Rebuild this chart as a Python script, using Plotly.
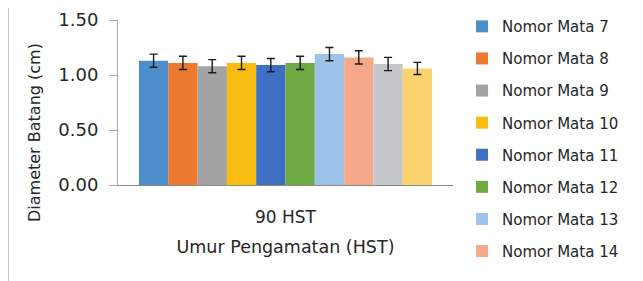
import plotly.graph_objects as go

categories = ["90 HST"]
series_names = ["Nomor Mata 7", "Nomor Mata 8", "Nomor Mata 9", "Nomor Mata 10",
                "Nomor Mata 11", "Nomor Mata 12", "Nomor Mata 13", "Nomor Mata 14",
                "Nomor Mata 15", "Nomor Mata 16"]
values = [1.13, 1.11, 1.08, 1.11, 1.09, 1.11, 1.19, 1.16, 1.10, 1.06]
errors = [0.06, 0.06, 0.06, 0.06, 0.06, 0.06, 0.06, 0.06, 0.06, 0.055]
colors = ["#4d8fcc", "#ec7a2e", "#a3a3a3", "#f8bd10", "#3f6fc3",
          "#6fa944", "#9ec3e8", "#f5a98a", "#c4c8cc", "#fbd36e"]
shown_in_legend = [True] * 8 + [False] * 2
y_ticks = [0.0, 0.5, 1.0, 1.5]
x_title = "Umur Pengamatan (HST)"
y_title = "Diameter Batang (cm)"

FONT = "DejaVu Sans"
# page body adds an 8px offset, so the figure is sized to fill the rest of the window
W, H = 635, 273
L, R, T, B = 110, 190, 12, 96
PW = W - L - R
PH = H - T - B

fig = go.Figure()
for name, v, e, c, show in zip(series_names, values, errors, colors, shown_in_legend):
    fig.add_trace(go.Bar(
        x=categories, y=[v], name=name, marker=dict(color=c, line=dict(width=0)),
        error_y=dict(type="data", array=[e], visible=True, color="#1a1a1a",
                     thickness=1.4, width=4),
        showlegend=show, legendgroup=name,
    ))

fig.update_layout(
    width=W, height=H,
    margin=dict(l=L, r=R, t=T, b=B, autoexpand=False),
    paper_bgcolor="white", plot_bgcolor="white",
    barmode="group", bargap=0.125, bargroupgap=0,
    font=dict(family=FONT, color="#333333", size=16),
    legend=dict(x=1.027, y=1.06, xanchor="left", yanchor="top",
                font=dict(family=FONT, size=15, color="#262626"),
                tracegroupgap=9.6, traceorder="grouped", maxheight=1.0,
                bgcolor="rgba(0,0,0,0)"),
    xaxis=dict(
        showline=True, linecolor="#888888", linewidth=1, automargin=False,
        ticks="", showgrid=False, ticklabelstandoff=17,
        tickfont=dict(family=FONT, size=17, color="#262626"),
        title=dict(text=x_title, standoff=14,
                   font=dict(family=FONT, size=17.5, color="#262626")),
    ),
    yaxis=dict(
        range=[0, 1.5], tickvals=y_ticks, tickformat=".2f", automargin=False,
        showline=True, linecolor="#aaaaaa", linewidth=1,
        ticks="outside", ticklen=8, tickcolor="#aaaaaa", ticklabelstandoff=7,
        showgrid=False, zeroline=False,
        tickfont=dict(family=FONT, size=18, color="#262626"),
    ),
    annotations=[dict(text=y_title, textangle=-90, showarrow=False,
                      xref="paper", yref="paper",
                      x=(26 - L) / PW, y=1 - (125 - T) / PH,
                      xanchor="center", yanchor="middle",
                      font=dict(family=FONT, size=16, color="#262626"))],
    shapes=[dict(type="rect", xref="paper", yref="paper",
                 x0=(0.5 - L) / PW, x1=(632 - L) / PW,
                 y0=-(B + 20) / PH, y1=1 + 40 / PH,
                 line=dict(color="#c8c8c8", width=1.2), layer="below")],
)

fig.write_html("out.html")
